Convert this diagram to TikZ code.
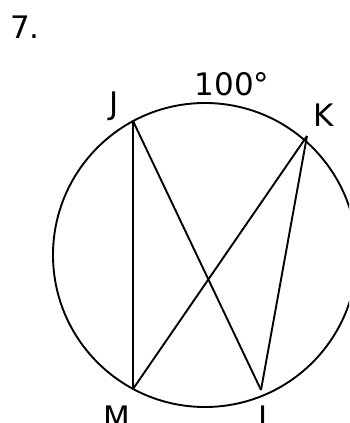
\documentclass[tikz,border=0pt]{standalone}
\usepackage{fontspec}
\setmainfont{DejaVu Sans}
\usetikzlibrary{positioning}

\begin{document}
\begin{tikzpicture}[x=1pt, y=-1pt,
        chord/.style={draw=black, line width=1.9pt},
        rim/.style={draw=black, line width=1.9pt},
        lbl/.style={inner sep=0pt, font=\fontsize{31}{36}\selectfont},
      ]
      \useasboundingbox (0,0) rectangle (349,423);
      \clip (0,0) rectangle (349,423);
      % circle and points on it
      \coordinate (O) at (205,255);
      \draw [rim] (O) circle [radius=152];
      \coordinate (J) at (133,121);
      \coordinate (K) at (307,136);
      \coordinate (L) at (261,390);
      \coordinate (M) at (133,389);
      % chords
      \draw [chord] (J) -- (M);
      \draw [chord] (J) -- (L);
      \draw [chord] (M) -- (K);
      \draw [chord] (K) -- (L);
      % labels
      \node [lbl, anchor=base west] (num) at (10,38) {7.};
      \node [lbl] (arc) at (232,84) {100°};
      \node [lbl] (jlbl) at (114.5,106.5) {J};
      \node [lbl] (klbl) at (323.5,115) {K};
      \node [lbl, anchor=north] (mlbl) at (117,406) {M};
      \node [lbl, anchor=north] (llbl) at (267,406) {L};
    \end{tikzpicture}
\end{document}
